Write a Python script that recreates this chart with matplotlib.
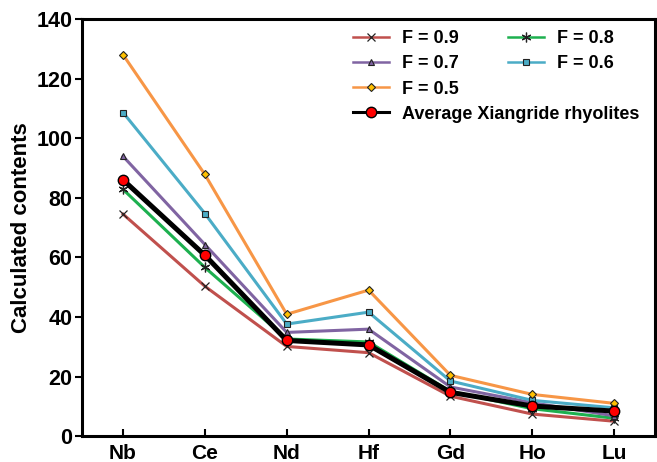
import numpy as np
import matplotlib
matplotlib.use('Agg')
from matplotlib import pyplot as plt

plt.rcParams['font.family'] = ['Liberation Sans', 'DejaVu Sans']
plt.rcParams['font.weight'] = 'bold'

elements = ['Nb', 'Ce', 'Nd', 'Hf', 'Gd', 'Ho', 'Lu']

f09 = [74.5, 50.3, 30.1, 28.0, 13.4, 7.4, 5.0]
f08 = [82.8, 56.6, 32.6, 31.6, 15.0, 9.2, 6.0]
f07 = [93.9, 64.3, 34.8, 35.9, 16.5, 11.2, 6.8]
f06 = [108.6, 74.7, 37.6, 41.6, 18.5, 12.0, 9.5]
f05 = [128.0, 87.8, 40.9, 49.0, 20.4, 14.0, 11.0]
average = [86.0, 60.7, 32.1, 30.6, 14.7, 10.1, 8.4]

x = np.arange(len(elements))

fig = plt.figure(figsize=(6.57, 4.62), dpi=100)
ax = fig.add_axes([0.125, 0.056, 0.872, 0.903])

h09, = ax.plot(x, f09, color='#C0504D', lw=2.2, marker='x', ms=6,
               mec='#222222', mew=0.9, label='F = 0.9')
h08, = ax.plot(x, f08, color='#1DB04F', lw=2.2, marker=(6, 2, 0), ms=7,
               mec='#222222', mew=0.9, label='F = 0.8')
h07, = ax.plot(x, f07, color='#8064A2', lw=2.2, marker='^', ms=5,
               mfc='#8064A2', mec='#222222', mew=0.8, label='F = 0.7')
h06, = ax.plot(x, f06, color='#4BACC6', lw=2.2, marker='s', ms=4.5,
               mfc='#4BACC6', mec='#222222', mew=0.8, label='F = 0.6')
h05, = ax.plot(x, f05, color='#F79646', lw=2.2, marker='D', ms=4.5,
               mfc='#FFC000', mec='#222222', mew=0.8, label='F = 0.5')
havg, = ax.plot(x, average, color='black', lw=3.6, marker='o', ms=7.5,
                mfc='red', mec='black', mew=1.0,
                label='Average Xiangride rhyolites')

ax.set_xlim(-0.5, 6.5)
ax.set_ylim(0, 140)
ax.set_yticks(np.arange(0, 141, 20))
ax.set_xticks(x)
ax.set_xticklabels(elements)
ax.tick_params(axis='x', direction='in', length=5, width=1.5, labelsize=15, pad=6)
ax.tick_params(axis='y', direction='out', length=5, width=1.5, labelsize=15.5, pad=2)
for lab in ax.get_xticklabels() + ax.get_yticklabels():
    lab.set_fontweight('bold')
for s in ax.spines.values():
    s.set_linewidth(2.2)

ax.set_ylabel('Calculated contents', fontsize=16, fontweight='bold', labelpad=3)

# two separate legends so the left column can hold four entries
leg_kw = dict(frameon=False, handlelength=2.0, handletextpad=0.7,
              labelspacing=0.45, borderaxespad=0,
              prop={'weight': 'bold', 'size': 13})
leg1 = ax.legend(handles=[h09, h07, h05, havg], loc='upper left',
                 bbox_to_anchor=(0.46, 0.99), **leg_kw)
for lh in leg1.legend_handles[:3]:
    lh.set_linewidth(1.8)
leg1.legend_handles[3].set_linewidth(2.2)
ax.add_artist(leg1)
leg2 = ax.legend(handles=[h08, h06], loc='upper left',
                 bbox_to_anchor=(0.731, 0.99), **leg_kw)
for lh in leg2.legend_handles:
    lh.set_linewidth(1.8)

fig.savefig('out.png', dpi=100)
